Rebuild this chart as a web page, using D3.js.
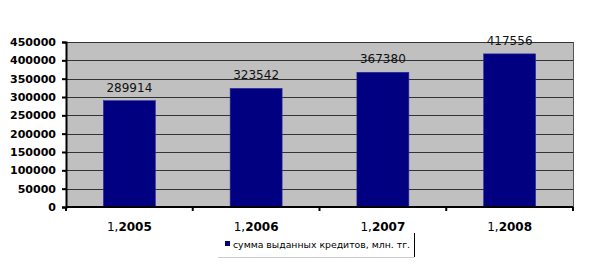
<!DOCTYPE html>
<html>
<head>
<meta charset="utf-8">
<script src="https://cdn.jsdelivr.net/npm/d3@7"></script>
<style>
  body { margin: 0; background: #fff; }
  text { font-family: "DejaVu Sans", sans-serif; }
</style>
</head>
<body>
<script>
const categories = ["1,2005", "1,2006", "1,2007", "1,2008"];
const values = [289914, 323542, 367380, 417556];
const yTicks = [0, 50000, 100000, 150000, 200000, 250000, 300000, 350000, 400000, 450000];
const legendLabel = "сумма выданных кредитов, млн. тг.";

const width = 589, height = 274;
const plot = {left: 66, right: 573, top: 42, bottom: 207};

const svg = d3.select("body").append("svg")
  .attr("width", width).attr("height", height);

const x = d3.scaleBand().domain(categories)
  .range([plot.left, plot.right]).paddingInner(0.59).paddingOuter(0.295);
const band = d3.scaleBand().domain(categories).range([plot.left, plot.right]);
const y = d3.scaleLinear().domain([0, 450000]).range([plot.bottom, plot.top]);

// plot background
svg.append("rect")
  .attr("x", plot.left).attr("y", plot.top)
  .attr("width", plot.right - plot.left).attr("height", plot.bottom - plot.top)
  .attr("fill", "#c0c0c0");

// gridlines
svg.selectAll(".grid")
  .data(yTicks.slice(1))
  .enter().append("line")
  .attr("class", "grid")
  .attr("x1", plot.left).attr("x2", plot.right)
  .attr("y1", d => Math.round(y(d)) + 0.5).attr("y2", d => Math.round(y(d)) + 0.5)
  .attr("stroke", "#333").attr("stroke-width", 1);

// right border
svg.append("line")
  .attr("x1", plot.right + 0.5).attr("x2", plot.right + 0.5)
  .attr("y1", plot.top).attr("y2", plot.bottom)
  .attr("stroke", "#555");

// bars
svg.selectAll(".bar")
  .data(values)
  .enter().append("rect")
  .attr("class", "bar")
  .attr("x", (d, i) => x(categories[i]))
  .attr("y", d => y(d))
  .attr("width", x.bandwidth())
  .attr("height", d => plot.bottom - y(d))
  .attr("fill", "#000080")
  .attr("stroke", "#2a2aa0").attr("stroke-width", 0.6);

// data labels
svg.selectAll(".val")
  .data(values)
  .enter().append("text")
  .attr("class", "val")
  .attr("x", (d, i) => x(categories[i]) + x.bandwidth() / 2)
  .attr("y", d => y(d) - 9)
  .attr("text-anchor", "middle")
  .attr("font-size", 12)
  .attr("fill", "#111")
  .text(d => d);

// y axis
const yAxis = svg.append("g")
  .attr("transform", `translate(${plot.left},0)`)
  .call(d3.axisLeft(y).tickValues(yTicks).tickSize(4).tickFormat(d => d));
yAxis.select(".domain").attr("stroke", "#000").attr("stroke-width", 2);
yAxis.selectAll(".tick line").attr("stroke", "#000").attr("stroke-width", 2);
yAxis.selectAll("text")
  .attr("font-family", "DejaVu Sans").attr("font-size", 11)
  .attr("font-weight", "bold").attr("fill", "#000").attr("x", -10);

// x axis
const xAxis = svg.append("g")
  .attr("transform", `translate(0,${plot.bottom})`);
xAxis.append("line")
  .attr("x1", plot.left).attr("x2", plot.right)
  .attr("stroke", "#000").attr("stroke-width", 2);
const boundaries = categories.map(c => band(c)).concat([plot.right]);
xAxis.selectAll(".xtick")
  .data(boundaries)
  .enter().append("line")
  .attr("x1", d => d).attr("x2", d => d)
  .attr("y1", 0).attr("y2", 4)
  .attr("stroke", "#000").attr("stroke-width", 2);

const xl = xAxis.selectAll(".xlab")
  .data(categories)
  .enter().append("text")
  .attr("x", d => band(d) + band.bandwidth() / 2)
  .attr("y", 24)
  .attr("text-anchor", "middle")
  .attr("font-size", 12)
  .attr("fill", "#000");
xl.append("tspan").text(d => d.split(",")[0] + ",");
xl.append("tspan").attr("font-weight", "bold").text(d => d.split(",")[1]);

// legend
const lg = svg.append("g").attr("transform", "translate(218,233)");
lg.append("line").attr("x1", 0).attr("x2", 196).attr("y1", 24.5).attr("y2", 24.5)
  .attr("stroke", "#ccc");
lg.append("line").attr("x1", 196.5).attr("x2", 196.5).attr("y1", 0).attr("y2", 24)
  .attr("stroke", "#000");
lg.append("rect").attr("x", 7).attr("y", 8).attr("width", 5).attr("height", 5)
  .attr("fill", "#000080");
lg.append("text").attr("x", 15).attr("y", 15)
  .attr("font-size", 9.5).attr("fill", "#000")
  .attr("textLength", 177).attr("lengthAdjust", "spacingAndGlyphs")
  .text(legendLabel);
</script>
</body>
</html>
